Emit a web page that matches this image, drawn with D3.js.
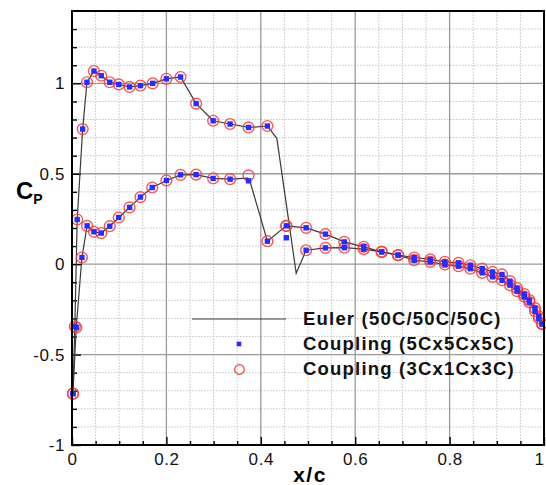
<!DOCTYPE html>
<html><head><meta charset="utf-8">
<script src="https://cdn.jsdelivr.net/npm/d3@7"></script>
<style>body{margin:0;background:#fff;} text{font-family:"Liberation Sans",Arial,sans-serif;}</style>
</head><body>
<svg id="chart" width="546" height="485"></svg>
<script>
// ---------- data ----------
const xTicks = [0, 0.2, 0.4, 0.6, 0.8, 1];
const xTickLabels = ["0", "0.2", "0.4", "0.6", "0.8", "1"];
const yTicks = [-1, -0.5, 0, 0.5, 1];
const yTickLabels = ["-1", "-0.5", "0", "0.5", "1"];

const legendLabels = ["Euler (50C/50C/50C)", "Coupling (5Cx5Cx5C)", "Coupling (3Cx1Cx3C)"];

// upper surface stations
const upperX = [0.002, 0.006, 0.011, 0.0226, 0.0317, 0.0465, 0.062, 0.080, 0.099, 0.122, 0.145, 0.171, 0.200, 0.230, 0.263, 0.299, 0.335, 0.374, 0.414, 0.454, 0.496, 0.537, 0.577, 0.618, 0.656, 0.691, 0.725, 0.759, 0.790, 0.819, 0.844, 0.869, 0.891, 0.911, 0.928, 0.943, 0.958, 0.969, 0.981, 0.989, 0.996];
const upperCoupling3 = [-0.716, -0.345, 0.247, 0.747, 1.006, 1.068, 1.042, 1.006, 0.994, 0.980, 0.987, 1.0, 1.025, 1.035, 0.888, 0.793, 0.775, 0.756, 0.764, 0.212, 0.077, 0.090, 0.091, 0.083, 0.068, 0.050, 0.022, 0.013, -0.002, -0.011, -0.025, -0.048, -0.070, -0.089, -0.116, -0.149, -0.180, -0.210, -0.260, -0.299, -0.332];
const upperCoupling5 = [-0.716, -0.345, 0.247, 0.747, 1.006, 1.068, 1.042, 1.006, 0.994, 0.980, 0.987, 1.0, 1.025, 1.035, 0.888, 0.793, 0.775, 0.756, 0.764, 0.146, 0.077, 0.090, 0.091, 0.083, 0.068, 0.050, 0.022, 0.013, -0.002, -0.011, -0.025, -0.048, -0.070, -0.089, -0.116, -0.149, -0.180, -0.210, -0.260, -0.299, -0.332];

// lower surface stations
const lowerX = [0.002, 0.009, 0.021, 0.032, 0.0465, 0.062, 0.080, 0.099, 0.122, 0.145, 0.170, 0.200, 0.230, 0.263, 0.299, 0.335, 0.374, 0.414, 0.454, 0.496, 0.537, 0.577, 0.618, 0.656, 0.691, 0.725, 0.759, 0.790, 0.819, 0.844, 0.869, 0.891, 0.911, 0.928, 0.943, 0.958, 0.969, 0.981, 0.989, 0.996];
const lowerCoupling3 = [-0.716, -0.35, 0.037, 0.212, 0.179, 0.172, 0.210, 0.258, 0.314, 0.371, 0.424, 0.463, 0.494, 0.495, 0.474, 0.470, 0.491, 0.127, 0.212, 0.201, 0.166, 0.123, 0.096, 0.068, 0.050, 0.037, 0.026, 0.013, 0.007, -0.006, -0.024, -0.043, -0.057, -0.094, -0.133, -0.166, -0.199, -0.243, -0.288, -0.329];
const lowerCoupling5 = [-0.716, -0.35, 0.037, 0.212, 0.179, 0.172, 0.210, 0.258, 0.314, 0.371, 0.424, 0.463, 0.494, 0.495, 0.474, 0.470, 0.461, 0.127, 0.212, 0.201, 0.166, 0.123, 0.096, 0.068, 0.050, 0.037, 0.026, 0.013, 0.007, -0.006, -0.024, -0.043, -0.057, -0.094, -0.133, -0.166, -0.199, -0.243, -0.288, -0.329];

// Euler reference (fine grid)
const eulerUpperX = [0.002, 0.006, 0.011, 0.0226, 0.0317, 0.0465, 0.062, 0.080, 0.099, 0.122, 0.145, 0.171, 0.200, 0.230, 0.263, 0.299, 0.335, 0.374, 0.414, 0.434, 0.475, 0.496, 0.537, 0.577, 0.618, 0.656, 0.691, 0.725, 0.759, 0.790, 0.819, 0.844, 0.869, 0.891, 0.911, 0.928, 0.943, 0.958, 0.969, 0.981, 0.989, 0.996];
const eulerUpperCp = [-0.716, -0.345, 0.247, 0.747, 1.006, 1.068, 1.042, 1.006, 0.994, 0.980, 0.987, 1.0, 1.025, 1.035, 0.888, 0.793, 0.775, 0.756, 0.764, 0.696, -0.05, 0.077, 0.090, 0.091, 0.083, 0.068, 0.050, 0.022, 0.013, -0.002, -0.011, -0.025, -0.048, -0.070, -0.089, -0.116, -0.149, -0.180, -0.210, -0.260, -0.299, -0.332];
const eulerLowerX = [0.002, 0.009, 0.021, 0.032, 0.0465, 0.062, 0.080, 0.099, 0.122, 0.145, 0.170, 0.200, 0.230, 0.263, 0.299, 0.335, 0.372, 0.378, 0.414, 0.454, 0.496, 0.537, 0.577, 0.618, 0.656, 0.691, 0.725, 0.759, 0.790, 0.819, 0.844, 0.869, 0.891, 0.911, 0.928, 0.943, 0.958, 0.969, 0.981, 0.989, 0.996];
const eulerLowerCp = [-0.716, -0.35, 0.037, 0.212, 0.179, 0.172, 0.210, 0.258, 0.314, 0.371, 0.424, 0.463, 0.494, 0.495, 0.474, 0.470, 0.476, 0.450, 0.127, 0.212, 0.201, 0.166, 0.123, 0.096, 0.068, 0.050, 0.037, 0.026, 0.013, 0.007, -0.006, -0.024, -0.043, -0.057, -0.094, -0.133, -0.166, -0.199, -0.243, -0.288, -0.329];

// ---------- drawing ----------
const svg = d3.select("#chart");
const x = d3.scaleLinear().domain([0, 1]).range([72, 544]);
const y = d3.scaleLinear().domain([-1, 1.4]).range([445, 11]);

const xMinor = d3.range(1, 20).map(i => i * 0.05).filter(v => Math.abs(v / 0.2 - Math.round(v / 0.2)) > 1e-6);
const yMinor = d3.range(-9, 14).map(i => i * 0.1).filter(v => Math.abs(v / 0.5 - Math.round(v / 0.5)) > 1e-6);
const xMajorInner = [0.2, 0.4, 0.6, 0.8];
const yMajorInner = [-0.5, 0, 0.5, 1];

const grid = svg.append("g");
grid.selectAll(".xm").data(xMinor).enter().append("line")
  .attr("x1", d => x(d)).attr("x2", d => x(d)).attr("y1", y(-1)).attr("y2", y(1.4))
  .attr("stroke", "#c4c4c4").attr("stroke-width", 1).attr("stroke-dasharray", "1.5,1.5");
grid.selectAll(".ym").data(yMinor).enter().append("line")
  .attr("x1", x(0)).attr("x2", x(1)).attr("y1", d => y(d)).attr("y2", d => y(d))
  .attr("stroke", "#c4c4c4").attr("stroke-width", 1).attr("stroke-dasharray", "1.5,1.5");
grid.selectAll(".xM").data(xMajorInner).enter().append("line")
  .attr("x1", d => x(d)).attr("x2", d => x(d)).attr("y1", y(-1)).attr("y2", y(1.4))
  .attr("stroke", "#9a9a9a").attr("stroke-width", 1.3);
grid.selectAll(".yM").data(yMajorInner).enter().append("line")
  .attr("x1", x(0)).attr("x2", x(1)).attr("y1", d => y(d)).attr("y2", d => y(d))
  .attr("stroke", "#9a9a9a").attr("stroke-width", 1.3);

// axes
const fontTick = g => g.selectAll("text").attr("font-size", 17).attr("fill", "#111")
  .attr("font-family", "'Liberation Sans',Arial,sans-serif").style("letter-spacing", "0.6px");

const xAxis = svg.append("g").attr("transform", `translate(0,${y(-1)})`)
  .call(d3.axisBottom(x).tickValues(xTicks).tickFormat((d, i) => xTickLabels[i]).tickSize(-8).tickPadding(8));
xAxis.call(fontTick);
// keep the last label inside the picture
xAxis.selectAll(".tick text").filter(d => d === 1).attr("text-anchor", "end").attr("dx", "-0.5").style("letter-spacing", "0px");
svg.append("g").attr("transform", `translate(0,${y(-1)})`)
  .call(d3.axisBottom(x).tickValues(xMinor).tickFormat("").tickSize(-4));
const yAxis = svg.append("g").attr("transform", `translate(${x(0)},0)`)
  .call(d3.axisLeft(y).tickValues(yTicks).tickFormat((d, i) => yTickLabels[i]).tickSize(-9).tickPadding(7));
yAxis.call(fontTick);
svg.append("g").attr("transform", `translate(${x(0)},0)`)
  .call(d3.axisLeft(y).tickValues(yMinor).tickFormat("").tickSize(-5));
svg.selectAll(".domain").remove();
svg.selectAll(".tick line").attr("stroke", "#000").attr("stroke-width", 1.4);

// Euler lines
const line = d3.line().x(d => x(d[0])).y(d => y(d[1]));
const eulerUpper = eulerUpperX.map((v, i) => [v, eulerUpperCp[i]]);
const eulerLower = eulerLowerX.map((v, i) => [v, eulerLowerCp[i]]);
[eulerUpper, eulerLower].forEach(pts => {
  svg.append("path").datum(pts).attr("d", line).attr("fill", "none")
    .attr("stroke", "#3a3a3a").attr("stroke-width", 1.2);
});

// circles (3Cx1Cx3C)
const circ = upperX.map((v, i) => [v, upperCoupling3[i]]).concat(lowerX.map((v, i) => [v, lowerCoupling3[i]]));
svg.append("g").selectAll("circle").data(circ).enter().append("circle")
  .attr("cx", d => x(d[0])).attr("cy", d => y(d[1])).attr("r", 5.4)
  .attr("fill", "none").attr("stroke", "#f03c3c").attr("stroke-width", 1.4).attr("stroke-opacity", 0.85);

// squares (5Cx5Cx5C)
const sq = upperX.map((v, i) => [v, upperCoupling5[i]]).concat(lowerX.map((v, i) => [v, lowerCoupling5[i]]));
const s = 5.4;
svg.append("g").selectAll("rect").data(sq).enter().append("rect")
  .attr("x", d => x(d[0]) - s / 2).attr("y", d => y(d[1]) - s / 2).attr("width", s).attr("height", s)
  .attr("fill", "#2b2bff");

// frame
svg.append("rect").attr("x", x(0)).attr("y", y(1.4)).attr("width", x(1) - x(0)).attr("height", y(-1) - y(1.4))
  .attr("fill", "none").attr("stroke", "#000").attr("stroke-width", 2);

// legend
const lg = svg.append("g");
const legY = [325, 350, 375];
lg.append("line").attr("x1", 192).attr("x2", 286).attr("y1", legY[0] - 6).attr("y2", legY[0] - 6)
  .attr("stroke", "#3a3a3a").attr("stroke-width", 1.2);
lg.append("rect").attr("x", 239 - 2.3).attr("y", legY[1] - 6 - 2.3).attr("width", 4.6).attr("height", 4.6).attr("fill", "#2b2bff");
lg.append("circle").attr("cx", 239.5).attr("cy", legY[2] - 5.5).attr("r", 4.8).attr("fill", "none")
  .attr("stroke", "#f03c3c").attr("stroke-width", 1.2);
lg.selectAll("text").data(legendLabels).enter().append("text")
  .attr("x", 303).attr("y", (d, i) => legY[i]).text(d => d)
  .attr("font-size", 18.5).attr("font-weight", "bold").style("letter-spacing", "1.2px").attr("fill", "#111");

// axis titles
svg.append("text").attr("x", 310).attr("y", 482).attr("text-anchor", "middle")
  .attr("font-size", 21).attr("font-weight", "bold").style("letter-spacing", "1.5px").text("x/c");
const yl = svg.append("text").attr("x", 16).attr("y", 199).attr("font-size", 24).attr("font-weight", "bold");
yl.append("tspan").text("C");
yl.append("tspan").attr("font-size", 14).attr("dy", 5).text("P");
</script>
</body></html>
